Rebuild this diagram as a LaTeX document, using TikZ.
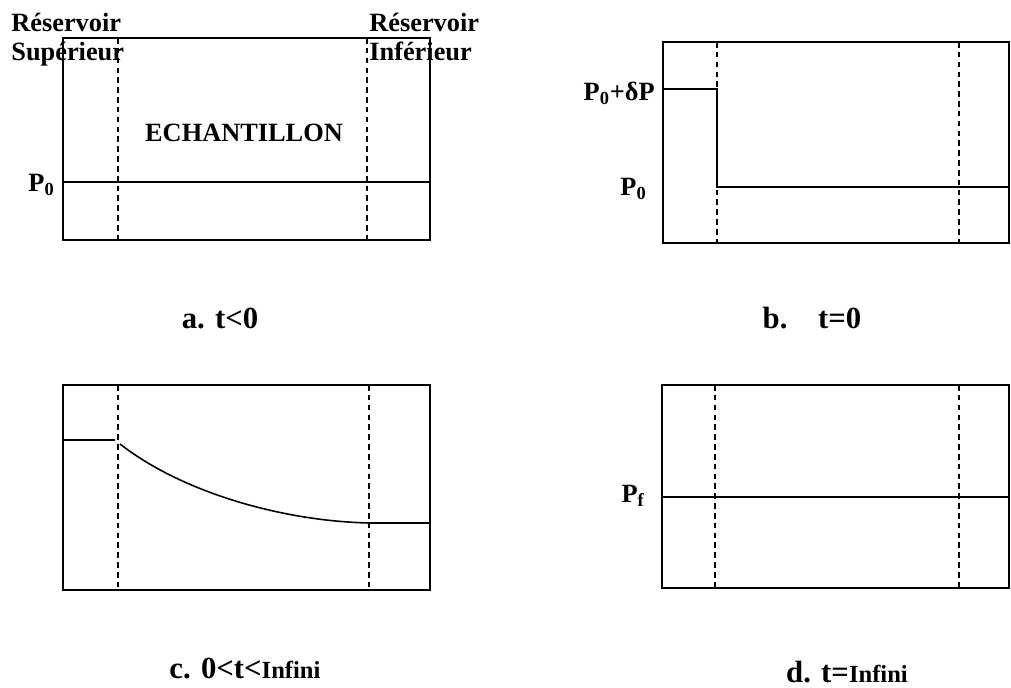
\documentclass[tikz,border=0pt]{standalone}
\usepackage{fontspec}
\setmainfont{Liberation Serif}

\begin{document}
\begin{tikzpicture}[x=0.02cm,y=-0.02cm,
    box/.style={line width=0.9pt},
    sep/.style={line width=1.5pt, dash pattern=on 3.2pt off 2.4pt},
    lab/.style={font=\bfseries\fontsize{15}{16.5}\selectfont, inner sep=0pt, align=left},
    legend/.style={font=\bfseries\fontsize{17.5}{19}\selectfont, inner sep=0pt}]
    \useasboundingbox (0,0) rectangle (1011,687);

    % First panel (t<0, uniform pressure)
    \begin{scope}[shift={(63,38)}]
        \draw[box] (0,0) rectangle (367,202);
        \draw[sep] (55,0) -- (55,202);
        \draw[sep] (304,0) -- (304,202);
        \draw[box] (0,144) -- (367,144);
        \node[lab, anchor=north west] (ressup) at (-52,-25) {Réservoir\\Supérieur};
        \node[lab, anchor=north west] (resinf) at (306,-25) {Réservoir\\Inférieur};
        \node[lab] (ech) at (181,95) {ECHANTILLON};
        \node[lab, anchor=east] (pa) at (-8,147) {P\textsubscript{0}};
        \node[legend] (capa) at (157,280) {a. t<0};
    \end{scope}

    % Second panel (t=0, step at the upper reservoir)
    \begin{scope}[shift={(663,42)}]
        \draw[box] (0,0) rectangle (346,201);
        \draw[sep] (54,0) -- (54,201);
        \draw[sep] (296,0) -- (296,201);
        \draw[box] (0,47) -- (54,47) -- (54,145) -- (346,145);
        \node[lab, anchor=east] (pb1) at (-8,51) {P\textsubscript{0}+δP};
        \node[lab, anchor=east] (pb2) at (-16,147) {P\textsubscript{0}};
        \node[legend] (capb) at (149,276) {b.\quad t=0};
    \end{scope}

    % Third panel (0<t<Infini, decay through the sample)
    \begin{scope}[shift={(63,385)}]
        \draw[box] (0,0) rectangle (367,205);
        \draw[sep] (55,0) -- (55,205);
        \draw[sep] (306,0) -- (306,205);
        \draw[box] (0,55) -- (52,55);
        \draw[box] (57,59) .. controls (120,108) and (220,136) .. (306,138) -- (367,138);
        \node[legend] (capc) at (182,283) {c. 0<t<{\fontsize{14}{16}\selectfont Infini}};
    \end{scope}

    % Fourth panel (t=Infini, final pressure)
    \begin{scope}[shift={(662,385)}]
        \draw[box] (0,0) rectangle (347,203);
        \draw[sep] (53,0) -- (53,203);
        \draw[sep] (297,0) -- (297,203);
        \draw[box] (0,112) -- (347,112);
        \node[lab, anchor=east] (pd) at (-17,111) {P\textsubscript{f}};
        \node[legend] (capd) at (185,287) {d. t={\fontsize{14}{16}\selectfont Infini}};
    \end{scope}
\end{tikzpicture}
\end{document}
